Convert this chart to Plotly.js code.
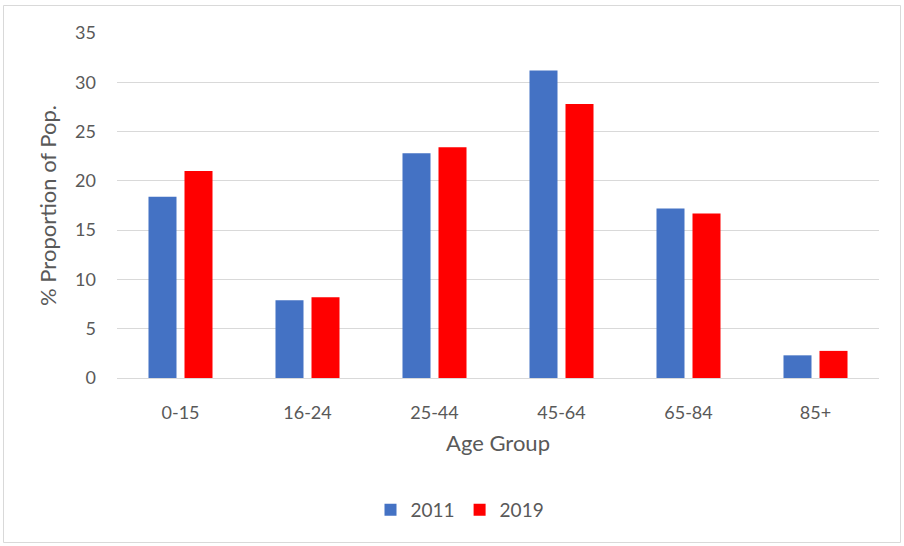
<!DOCTYPE html>
<html>
<head>
<meta charset="utf-8">
<script src="https://cdn.plot.ly/plotly-3.0.1.min.js"></script>
<style>
html,body{margin:0;padding:0;background:#fff;}
#chart{width:904px;height:546px;}
</style>
</head>
<body>
<div id="chart"></div>
<script>
const categories = ["0-15", "16-24", "25-44", "45-64", "65-84", "85+"];
const values2011 = [18.4, 7.9, 22.8, 31.2, 17.2, 2.3];
const values2019 = [21.0, 8.2, 23.4, 27.8, 16.7, 2.75];
const seriesNames = ["2011", "2019"];
const yTicks = [0, 5, 10, 15, 20, 25, 30, 35];

const W = 904, H = 546;
const margin = {l: 117, r: 25, t: 33, b: 168};
const pw = W - margin.l - margin.r, ph = H - margin.t - margin.b;
function px2x(p){ return (p - margin.l) / pw; }
function py2y(p){ return (H - margin.b - p) / ph; }

const font = "Lato, 'Open Sans', sans-serif";
const gray = "#595959";

const data = [
  {type: "bar", x: categories, y: values2011, name: seriesNames[0], marker: {color: "#4472C4"}},
  {type: "bar", x: categories, y: values2019, name: seriesNames[1], marker: {color: "#FF0000"}}
];

const layout = {
  width: W, height: H,
  margin: margin,
  paper_bgcolor: "#ffffff",
  plot_bgcolor: "#ffffff",
  font: {family: font, color: gray, size: 18},
  barmode: "group",
  bargap: 0.433,
  bargroupgap: 0.222,
  showlegend: true,
  legend: {orientation: "h", x: px2x(460), xanchor: "center", y: py2y(510), yanchor: "middle",
           font: {size: 19, color: gray}, itemwidth: 30, traceorder: "normal"},
  xaxis: {
    type: "category",
    showgrid: false,
    showline: true, linecolor: "#d9d9d9", linewidth: 1,
    ticks: "", ticklabelstandoff: 18,
    tickfont: {size: 18, color: gray},
    title: {text: "Age Group", font: {size: 22, color: gray}, standoff: 14}
  },
  yaxis: {
    range: [0, 35],
    tickvals: yTicks,
    ticktext: yTicks.map(String),
    showgrid: true, gridcolor: "#d9d9d9", gridwidth: 1,
    zeroline: false, showline: false,
    ticks: "", ticklabelstandoff: 20,
    tickfont: {size: 18, color: gray},
    title: {text: "% Proportion of Pop.", font: {size: 22, color: gray}, standoff: 12}
  },
  shapes: [{
    type: "rect", xref: "paper", yref: "paper",
    x0: px2x(3.5), x1: px2x(900.5), y0: py2y(542.5), y1: py2y(5.5),
    line: {color: "#d9d9d9", width: 1}, fillcolor: "rgba(0,0,0,0)", layer: "below"
  }]
};

Plotly.newPlot("chart", data, layout, {staticPlot: true, displayModeBar: false});
</script>
</body>
</html>
